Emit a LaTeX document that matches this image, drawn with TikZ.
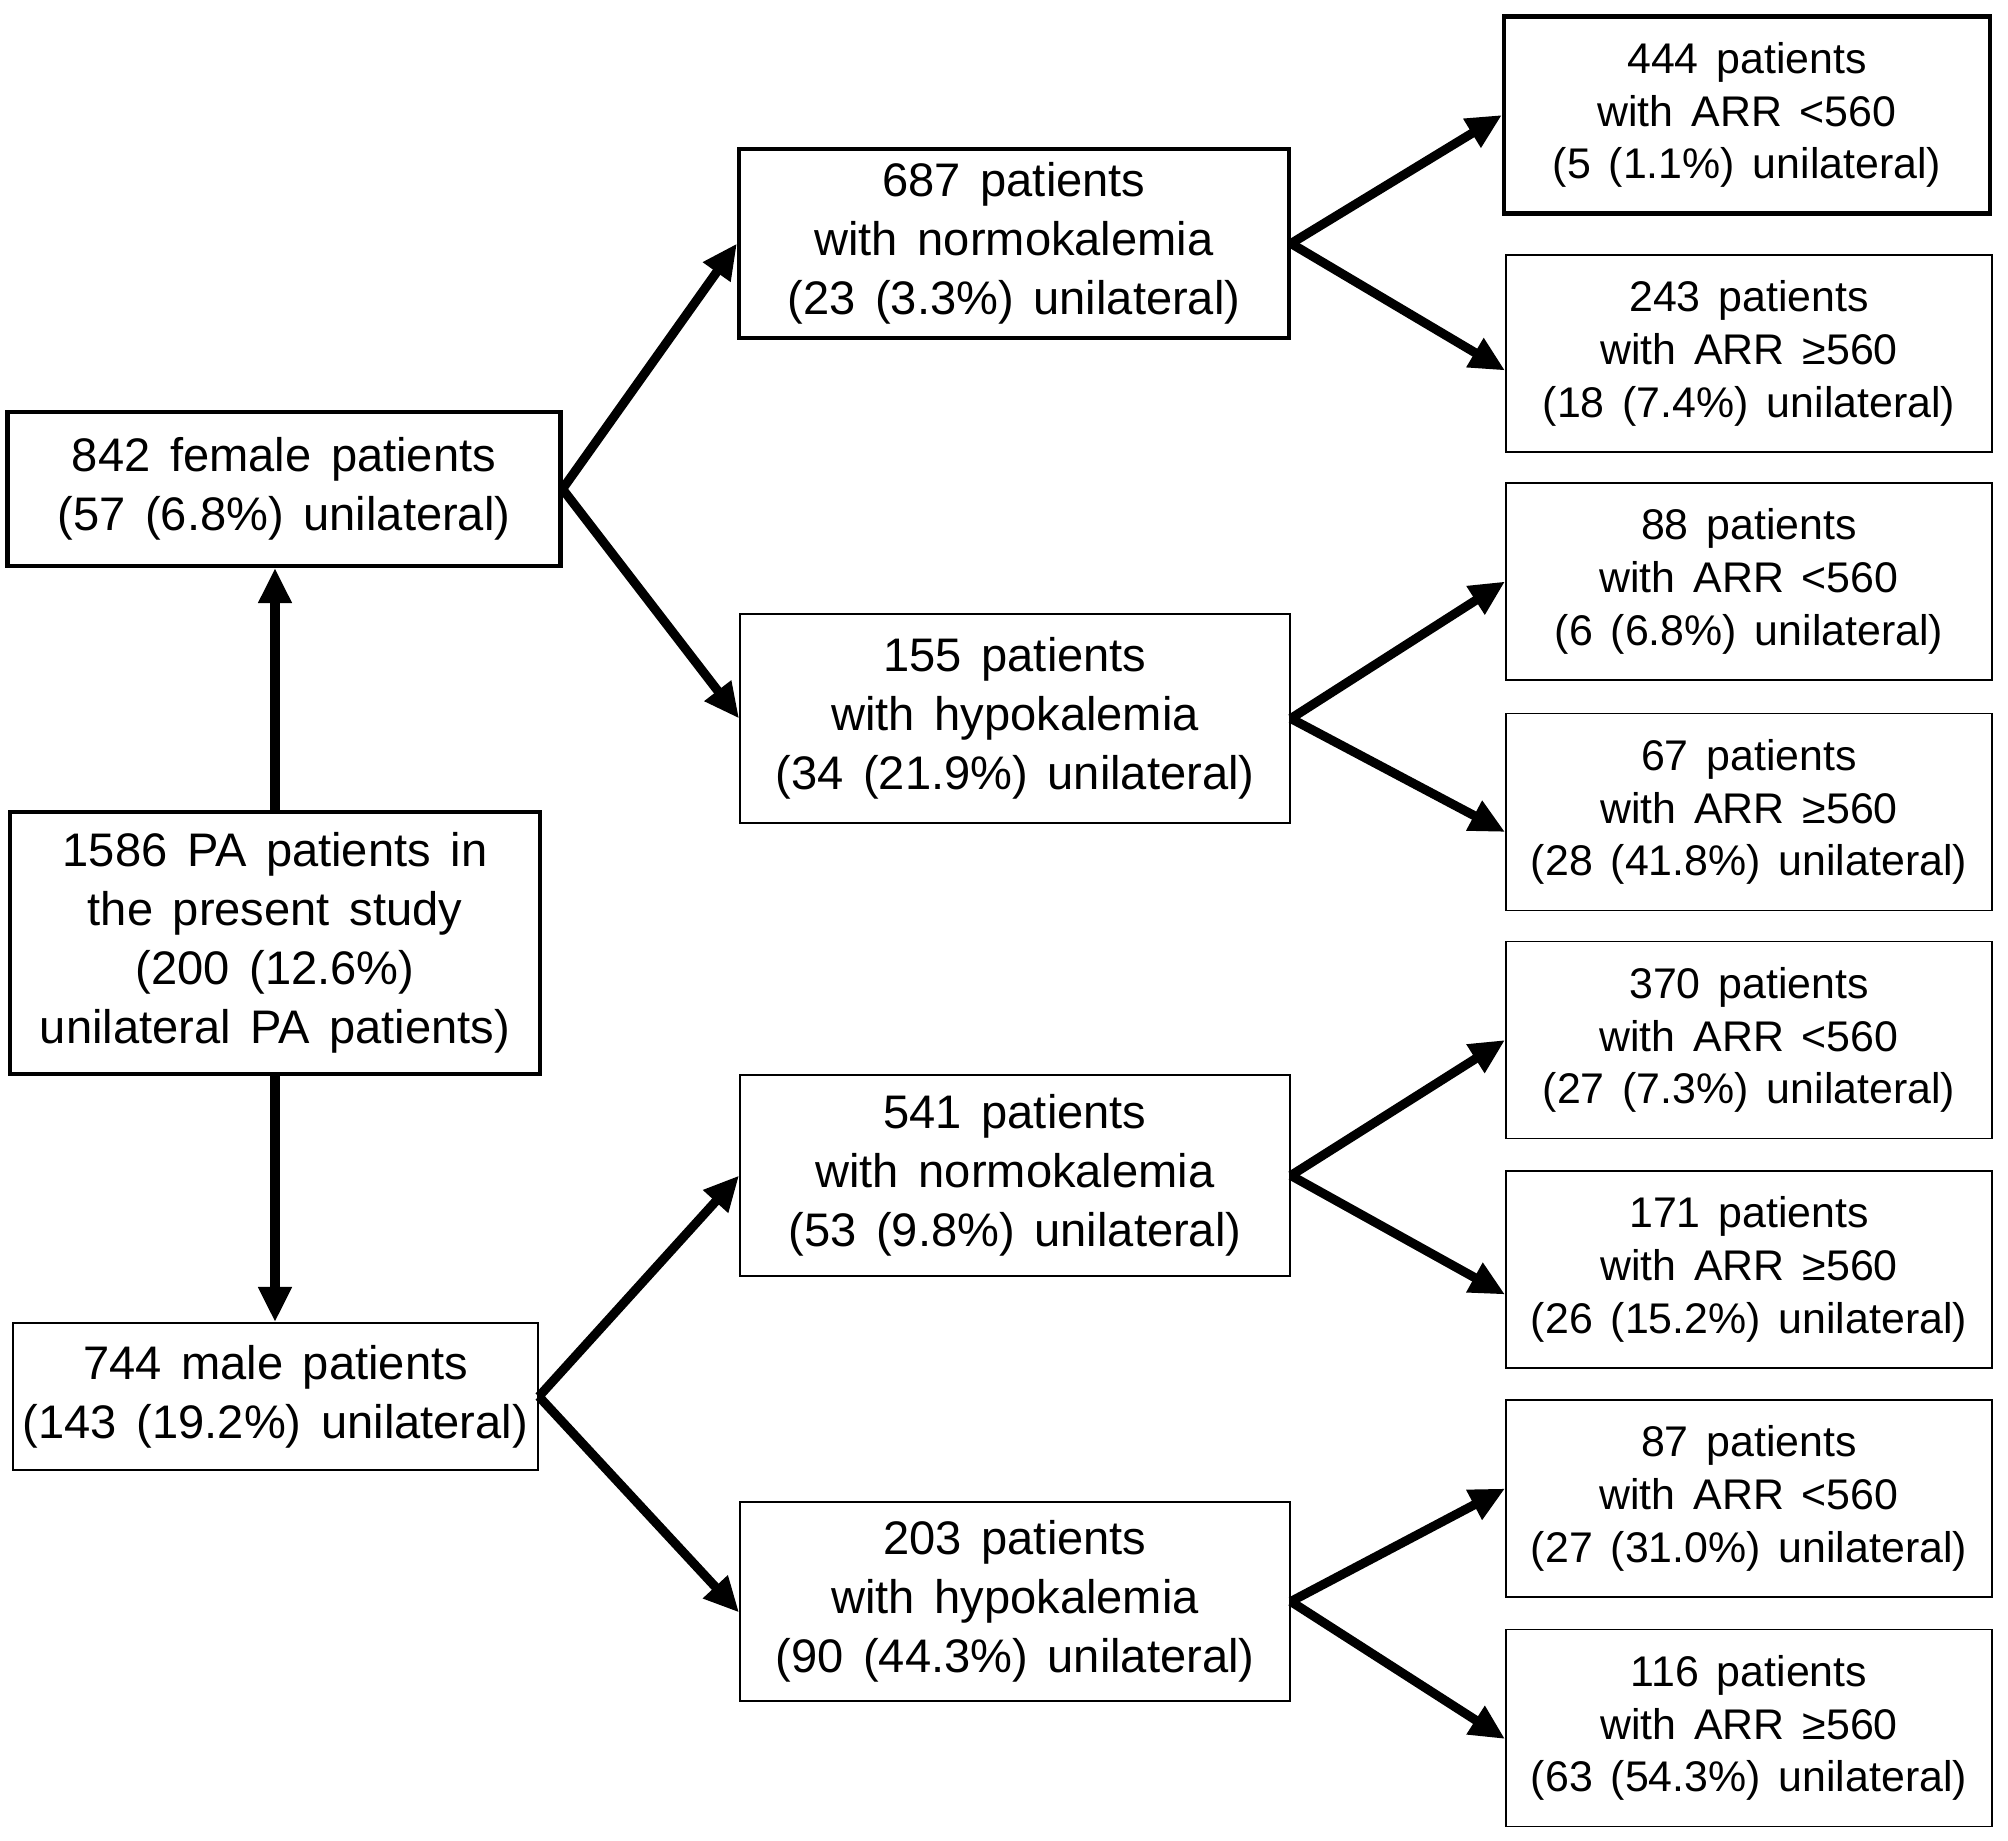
\documentclass[tikz,border=0pt]{standalone}
\usepackage{fontspec}
\setmainfont{Liberation Sans}[WordSpace=1.5]
\usetikzlibrary{arrows.meta}
\tikzset{
  pbox/.style={draw, line width=0.5pt, align=center, inner sep=0pt,
    font=\fontsize{13.4}{16.8}\selectfont},
  heavy/.style={line width=1.15pt},
  mbox/.style={pbox, minimum width=5.5cm},
  rbox/.style={pbox, minimum width=4.86cm, minimum height=1.97cm,
    font=\fontsize{12.2}{15}\selectfont},
  arr/.style={-{Triangle[length=10pt,width=9pt]}, line width=2.6pt},
}
\begin{document}
\begin{tikzpicture}
  \useasboundingbox (0,0) rectangle (20.08,-18.41);
  % left column
  \node[pbox, heavy, minimum width=5.30cm, minimum height=2.62cm] (all) at (2.75,-9.43)
    {1586 PA patients in\\the present study\\(200 (12.6\%)\\unilateral PA patients)};
  \node[pbox, heavy, minimum width=5.53cm, minimum height=1.54cm] (female) at (2.84,-4.89)
    {842 female patients\\(57 (6.8\%) unilateral)};
  \node[pbox, minimum width=5.25cm, minimum height=1.47cm] (male) at (2.755,-13.965)
    {744 male patients\\(143 (19.2\%) unilateral)};
  % middle column
  \node[mbox, heavy, minimum height=1.89cm] (fnormo) at (10.14,-2.435)
    {687 patients\\with normokalemia\\(23 (3.3\%) unilateral)};
  \node[mbox, minimum height=2.09cm] (fhypo) at (10.15,-7.185)
    {155 patients\\with hypokalemia\\(34 (21.9\%) unilateral)};
  \node[mbox, minimum height=2.01cm] (mnormo) at (10.15,-11.755)
    {541 patients\\with normokalemia\\(53 (9.8\%) unilateral)};
  \node[mbox, minimum height=1.99cm] (mhypo) at (10.15,-16.015)
    {203 patients\\with hypokalemia\\(90 (44.3\%) unilateral)};
  % right column
  \node[rbox, heavy] (fnlow) at (17.47,-1.15)
    {444 patients\\with ARR <560\\(5 (1.1\%) unilateral)};
  \node[rbox] (fnhigh) at (17.49,-3.535)
    {243 patients\\with ARR ≥560\\(18 (7.4\%) unilateral)};
  \node[rbox] (fhlow) at (17.49,-5.815)
    {88 patients\\with ARR <560\\(6 (6.8\%) unilateral)};
  \node[rbox] (fhhigh) at (17.49,-8.12)
    {67 patients\\with ARR ≥560\\(28 (41.8\%) unilateral)};
  \node[rbox] (mnlow) at (17.49,-10.4)
    {370 patients\\with ARR <560\\(27 (7.3\%) unilateral)};
  \node[rbox] (mnhigh) at (17.49,-12.695)
    {171 patients\\with ARR ≥560\\(26 (15.2\%) unilateral)};
  \node[rbox] (mhlow) at (17.49,-14.985)
    {87 patients\\with ARR <560\\(27 (31.0\%) unilateral)};
  \node[rbox] (mhhigh) at (17.49,-17.28)
    {116 patients\\with ARR ≥560\\(63 (54.3\%) unilateral)};
  % arrows
  \begin{scope}[arr]
    \draw (all.north) -- (all.north |- female.south);
    \draw (all.south) -- (all.south |- male.north);
    \draw (female.east) -- (fnormo.west);
    \draw (female.east) -- (fhypo.west);
    \draw (male.east) -- (mnormo.west);
    \draw (male.east) -- ([yshift=-0.11cm]mhypo.west);
    \draw (fnormo.east) -- (fnlow.west);
    \draw (fnormo.east) -- ([yshift=-0.17cm]fnhigh.west);
    \draw (fhypo.east) -- (fhlow.west);
    \draw (fhypo.east) -- ([yshift=-0.2cm]fhhigh.west);
    \draw (mnormo.east) -- (mnlow.west);
    \draw (mnormo.east) -- ([yshift=-0.25cm]mnhigh.west);
    \draw (mhypo.east) -- ([yshift=0.1cm]mhlow.west);
    \draw (mhypo.east) -- ([yshift=-0.11cm]mhhigh.west);
  \end{scope}
\end{tikzpicture}
\end{document}
